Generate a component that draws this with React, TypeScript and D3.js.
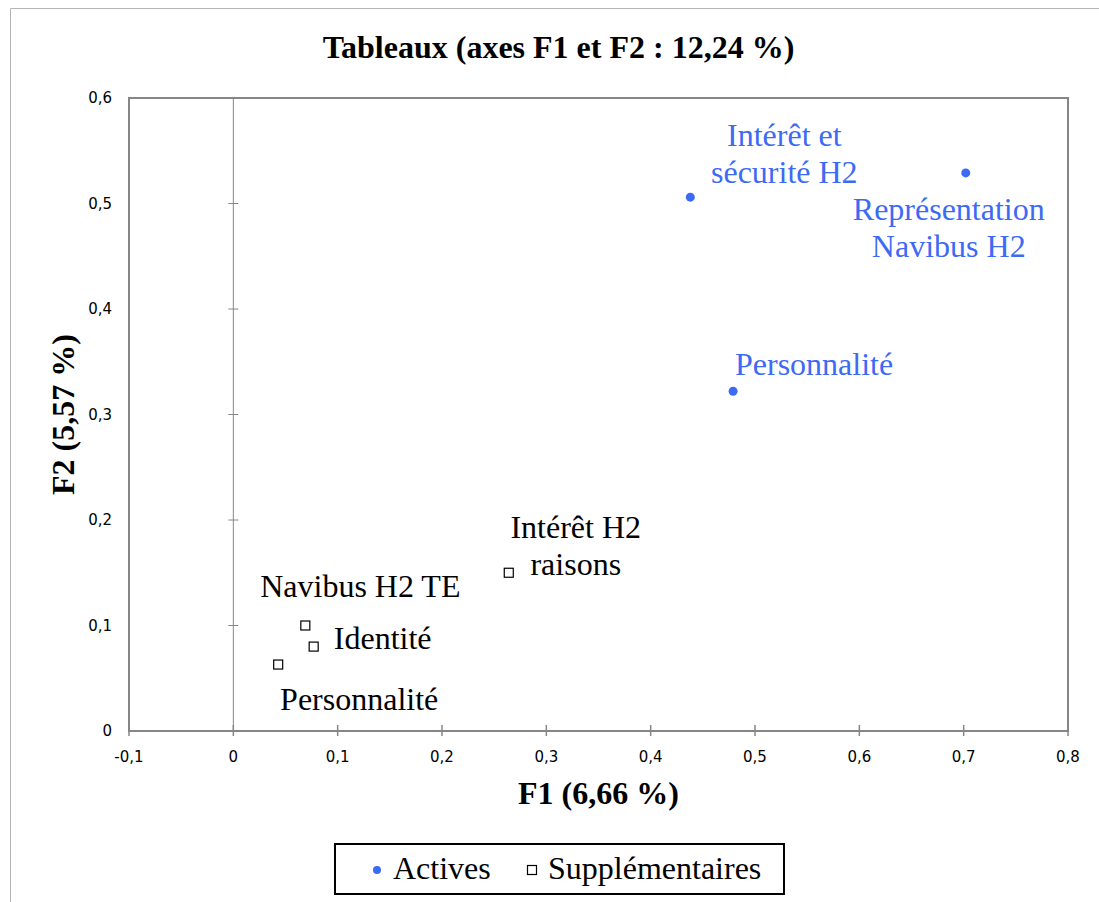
import React from "react";
import * as d3 from "d3";

// ---- Data ----
const activeNames: string[][] = [
  ["Intérêt et", "sécurité H2"],
  ["Représentation", "Navibus H2"],
  ["Personnalité"],
];
const activeF1: number[] = [0.438, 0.702, 0.479];
const activeF2: number[] = [0.506, 0.529, 0.322];

const suppNames: string[][] = [
  ["Navibus H2 TE"],
  ["Identité"],
  ["Personnalité"],
  ["Intérêt H2", "raisons"],
];
const suppF1: number[] = [0.069, 0.077, 0.043, 0.264];
const suppF2: number[] = [0.1, 0.08, 0.063, 0.15];

const xTicks: number[] = [-0.1, 0, 0.1, 0.2, 0.3, 0.4, 0.5, 0.6, 0.7, 0.8];
const yTicks: number[] = [0, 0.1, 0.2, 0.3, 0.4, 0.5, 0.6];

const chartTitle = "Tableaux (axes F1 et F2 : 12,24 %)";
const xTitle = "F1 (6,66 %)";
const yTitle = "F2 (5,57 %)";
const legendLabels: string[] = ["Actives", "Supplémentaires"];

// ---- Layout (label offsets in px relative to point) ----
const activeLabelOffsets: [number, number][] = [
  [94, -51],
  [-17, 47],
  [81, -16],
];
const suppLabelOffsets: [number, number][] = [
  [55, -29],
  [69, 2.5],
  [81, 45],
  [67, -35],
];

const W = 1099;
const H = 902;
const M = { left: 129, right: 1068, top: 98, bottom: 731 };
const BLUE = "#3d6af5";
const AXIS = "#868686";
const SERIF = "'Liberation Serif', 'Times New Roman', serif";
const SANS = "'DejaVu Sans', sans-serif";
const LINE_H = 37;

const fmt = (v: number) =>
  v === 0 ? "0" : (v < 0 ? "-" : "") + d3.format(".1f")(Math.abs(v)).replace(".", ",");

export default function App() {
  const x = d3.scaleLinear().domain([-0.1, 0.8]).range([M.left, M.right]);
  const y = d3.scaleLinear().domain([0, 0.6]).range([M.bottom, M.top]);
  const x0 = x(0);

  return (
    <svg
      width={W}
      height={H}
      style={{ position: "absolute", left: 0, top: 0, background: "#fff" }}
    >
      {/* outer chart frame */}
      <line x1={10.5} y1={8.5} x2={W} y2={8.5} stroke="#b5b5b5" strokeWidth={1} />
      <line x1={10.5} y1={8.5} x2={10.5} y2={H} stroke="#b5b5b5" strokeWidth={1} />

      {/* title */}
      <text x={558.5} y={58} textAnchor="middle" fontFamily={SERIF} fontWeight="bold" fontSize={32}>
        {chartTitle}
      </text>

      {/* zero vertical axis */}
      <line x1={x0} y1={M.top} x2={x0} y2={M.bottom} stroke={AXIS} strokeWidth={1} />
      {yTicks
        .filter((t) => t > 0 && t < 0.6)
        .map((t) => (
          <line key={"yt" + t} x1={x0 - 5} x2={x0 + 5} y1={y(t)} y2={y(t)} stroke={AXIS} strokeWidth={1} />
        ))}

      {/* bottom ticks */}
      {xTicks.map((t) => (
        <line key={"xt" + t} x1={x(t)} x2={x(t)} y1={M.bottom - 6} y2={M.bottom + 5} stroke={AXIS} strokeWidth={1.5} />
      ))}

      {/* plot frame */}
      <rect
        x={M.left}
        y={M.top}
        width={M.right - M.left}
        height={M.bottom - M.top}
        fill="none"
        stroke={AXIS}
        strokeWidth={2}
      />

      {/* tick labels */}
      {xTicks.map((t) => (
        <text key={"xl" + t} x={x(t)} y={762} textAnchor="middle" fontFamily={SANS} fontSize={15} fill="#000">
          {fmt(t)}
        </text>
      ))}
      {yTicks.map((t) => (
        <text
          key={"yl" + t}
          x={112}
          y={y(t)}
          dy="0.36em"
          textAnchor="end"
          fontFamily={SANS}
          fontSize={15}
          fill="#000"
        >
          {fmt(t)}
        </text>
      ))}

      {/* axis titles */}
      <text x={598.5} y={804} textAnchor="middle" fontFamily={SERIF} fontWeight="bold" fontSize={32}>
        {xTitle}
      </text>
      <text
        transform={`translate(74, ${(M.top + M.bottom) / 2}) rotate(-90)`}
        textAnchor="middle"
        fontFamily={SERIF}
        fontWeight="bold"
        fontSize={32}
      >
        {yTitle}
      </text>

      {/* supplementary points */}
      {suppF1.map((v, i) => (
        <rect
          key={"sp" + i}
          x={x(v) - 4.5}
          y={y(suppF2[i]) - 4.5}
          width={9}
          height={9}
          fill="#fff"
          stroke="#000"
          strokeWidth={1.2}
        />
      ))}
      {suppNames.map((lines, i) => (
        <text
          key={"sl" + i}
          x={x(suppF1[i]) + suppLabelOffsets[i][0]}
          y={y(suppF2[i]) + suppLabelOffsets[i][1]}
          textAnchor="middle"
          fontFamily={SERIF}
          fontSize={32}
          fill="#000"
        >
          {lines.map((l, j) => (
            <tspan key={j} x={x(suppF1[i]) + suppLabelOffsets[i][0]} dy={j === 0 ? 0 : LINE_H}>
              {l}
            </tspan>
          ))}
        </text>
      ))}

      {/* active points */}
      {activeF1.map((v, i) => (
        <circle key={"ap" + i} cx={x(v)} cy={y(activeF2[i])} r={4.5} fill={BLUE} />
      ))}
      {activeNames.map((lines, i) => (
        <text
          key={"al" + i}
          x={x(activeF1[i]) + activeLabelOffsets[i][0]}
          y={y(activeF2[i]) + activeLabelOffsets[i][1]}
          textAnchor="middle"
          fontFamily={SERIF}
          fontSize={32}
          fill={BLUE}
        >
          {lines.map((l, j) => (
            <tspan key={j} x={x(activeF1[i]) + activeLabelOffsets[i][0]} dy={j === 0 ? 0 : LINE_H}>
              {l}
            </tspan>
          ))}
        </text>
      ))}

      {/* legend */}
      <rect x={335} y={844} width={449} height={50} fill="#fff" stroke="#000" strokeWidth={2} />
      <circle cx={377} cy={870} r={4} fill={BLUE} />
      <text x={393} y={879} fontFamily={SERIF} fontSize={32}>
        {legendLabels[0]}
      </text>
      <rect x={527.5} y={865.5} width={9} height={9} fill="#fff" stroke="#000" strokeWidth={1.2} />
      <text x={548} y={879} fontFamily={SERIF} fontSize={32}>
        {legendLabels[1]}
      </text>
    </svg>
  );
}
